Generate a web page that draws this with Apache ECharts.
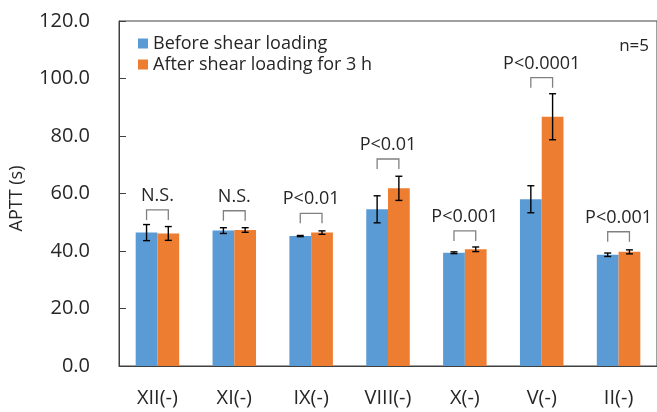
<!DOCTYPE html>
<html><head><meta charset="utf-8">
<script src="https://cdn.jsdelivr.net/npm/echarts@6/dist/echarts.min.js"></script>
<style>html,body{margin:0;padding:0;background:#fff}#c{width:657px;height:412px}</style>
</head><body><div id="c"></div>
<script>
const categories = ['XII(-)','XI(-)','IX(-)','VIII(-)','X(-)','V(-)','II(-)'];
const beforeMean = [46.4, 47.1, 45.2, 54.5, 39.4, 58.0, 38.7];
const beforeSD   = [2.8, 1.0, 0.2, 4.7, 0.3, 4.7, 0.6];
const afterMean  = [46.1, 47.3, 46.4, 61.8, 40.6, 86.7, 39.7];
const afterSD    = [2.4, 0.8, 0.6, 4.2, 0.8, 8.0, 0.7];
const sigLabels  = ['N.S.','N.S.','P<0.01','P<0.01','P<0.001','P<0.0001','P<0.001'];
const bracketTop = [54.3, 54.0, 53.1, 72.0, 47.0, 100.3, 46.7];
const yTicks = [0, 20, 40, 60, 80, 100, 120];

const FONT = 'Open Sans';
const BAR_FRAC = 0.283;
const chart = echarts.init(document.getElementById('c'), null, {renderer:'canvas'});

function errRender(side){
  return function(params, api){
    const i = api.value(0), v = api.value(1), sd = api.value(2);
    const bw = api.size([1,0])[0] * BAR_FRAC;
    const c = api.coord([i, v]);
    const x = c[0] + side * bw / 2;
    const yT = api.coord([i, v + sd])[1], yB = api.coord([i, v - sd])[1];
    const cap = 3.5;
    const st = {stroke:'#000', lineWidth:1.4};
    return {type:'group', children:[
      {type:'line', shape:{x1:x,y1:yT,x2:x,y2:yB}, style:st},
      {type:'line', shape:{x1:x-cap,y1:yT,x2:x+cap,y2:yT}, style:st},
      {type:'line', shape:{x1:x-cap,y1:yB,x2:x+cap,y2:yB}, style:st}
    ]};
  };
}
function sigRender(params, api){
  const i = api.value(0), top = api.value(1);
  const bw = api.size([1,0])[0] * BAR_FRAC;
  const c = api.coord([i, top]);
  const xl = c[0] - bw/2, xr = c[0] + bw/2;
  const yb = c[1] + 10;
  return {type:'group', children:[
    {type:'polyline', shape:{points:[[xl,yb],[xl,c[1]],[xr,c[1]],[xr,yb]]}, style:{stroke:'#808080', lineWidth:1.3, fill:null}},
    {type:'text', style:{text:sigLabels[i], x:c[0], y:c[1]-5, align:'center', verticalAlign:'bottom', font:'18px "'+FONT+'"', fill:'#262626'}}
  ]};
}

chart.setOption({
  animation:false,
  textStyle:{fontFamily:FONT},
  grid:{left:116, right:-4, top:21, bottom:46, show:true, borderColor:'#404040', borderWidth:1},
  legend:{
    orient:'vertical', left:133, top:28, itemWidth:10, itemHeight:10, itemGap:0,
    icon:'rect', textStyle:{fontSize:18, lineHeight:21, color:'#262626', fontFamily:FONT},
    data:['Before shear loading','After shear loading for 3 h']
  },
  xAxis:{
    type:'category', data:categories,
    axisLine:{lineStyle:{color:'#404040', width:1}},
    axisTick:{show:false},
    axisLabel:{fontSize:20, color:'#262626', margin:22, fontFamily:FONT}
  },
  yAxis:{
    type:'value', min:0, max:120, interval:20,
    name:'APTT (s)', nameLocation:'middle', nameGap:93, nameRotate:90,
    nameTextStyle:{fontSize:18, color:'#262626', fontFamily:FONT, padding:[0,0,0,-10]},
    axisLine:{show:true, lineStyle:{color:'#404040', width:1}},
    axisTick:{show:true, inside:true, length:7, lineStyle:{color:'#404040'}},
    splitLine:{show:false},
    axisLabel:{fontSize:20, color:'#262626', margin:29, fontFamily:FONT, formatter:v=>v.toFixed(1)}
  },
  graphic:[{type:'text', right:8, top:38, style:{text:'n=5', font:'17px "'+FONT+'"', fill:'#262626'}}],
  series:[
    {name:'Before shear loading', type:'bar', data:beforeMean, barWidth:(BAR_FRAC*100)+'%', barGap:'0%', itemStyle:{color:'#5b9bd5'}},
    {name:'After shear loading for 3 h', type:'bar', data:afterMean, barWidth:(BAR_FRAC*100)+'%', barGap:'0%', itemStyle:{color:'#ed7d31'}},
    {type:'custom', renderItem:errRender(-1), data:beforeMean.map((v,i)=>[i,v,beforeSD[i]]), z:5, silent:true},
    {type:'custom', renderItem:errRender(1), data:afterMean.map((v,i)=>[i,v,afterSD[i]]), z:5, silent:true},
    {type:'custom', renderItem:sigRender, data:bracketTop.map((v,i)=>[i,v]), z:5, silent:true}
  ]
});
</script></body></html>
